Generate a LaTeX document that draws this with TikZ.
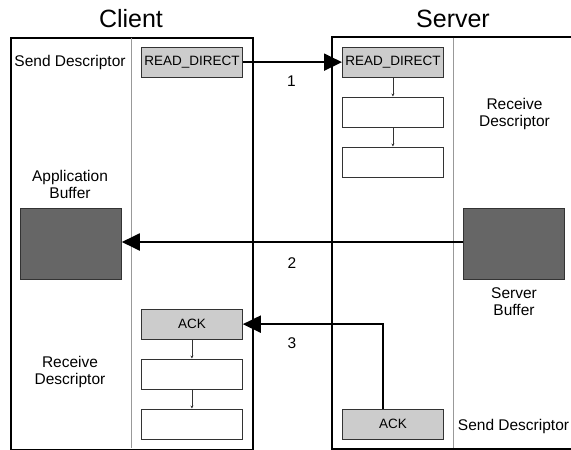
\documentclass[tikz,border=0pt]{standalone}
\usepackage{fontspec}
\setmainfont{Liberation Sans}
\usetikzlibrary{arrows.meta}
\definecolor{lightfill}{HTML}{CCCCCC}
\definecolor{darkfill}{HTML}{666666}
\definecolor{edge}{HTML}{333333}
\definecolor{divider}{HTML}{999999}
\begin{document}
\begin{tikzpicture}[x=1pt,y=-1pt,
  lbl/.style={font=\fontsize{15.5}{17}\selectfont, align=center, inner sep=0pt},
  ttl/.style={font=\fontsize{25}{28}\selectfont, inner sep=0pt, anchor=base},
  desc/.style={draw=edge, line width=0.8pt, minimum width=101pt, minimum height=30.5pt,
    inner sep=0pt, anchor=north west, font=\fontsize{13.5}{15}\selectfont},
  filled/.style={desc, fill=lightfill},
  buf/.style={draw=edge, fill=darkfill, line width=0.8pt, minimum width=101pt,
    minimum height=71pt, inner sep=0pt, anchor=north west},
  frame/.style={draw=black, line width=2pt},
  split/.style={draw=divider, line width=0.8pt},
  bigarrow/.style={draw=black, line width=2pt, -{Triangle[length=18pt,width=17pt]}},
  smallarrow/.style={draw=edge, line width=0.6pt, -{Stealth[length=3pt,width=3pt]}}
]
\useasboundingbox (0,0) rectangle (571,450);

% titles
\node[ttl] (tclient) at (131,27) {Client};
\node[ttl] (tserver) at (453,27) {Server};

% client frame
\node[frame, minimum width=242pt, minimum height=412pt, inner sep=0pt, anchor=north west] (client) at (10,36.5) {};
\draw[split] (131,37.5) -- (131,447.5);

% server frame (cut off on the right)
\coordinate (stl) at (332,36.5);
\coordinate (sbl) at (332,448.5);
\coordinate (str) at (572,36.5);
\coordinate (sbr) at (572,448.5);
\draw[frame] (str) -- (stl) -- (sbl) -- (sbr);
\draw[split] (453,37.5) -- (453,447.5);

% client descriptors
\node[filled] (crd) at (141,46.5) {READ\_DIRECT};
\node[filled] (cack) at (141,308.5) {ACK};
\node[desc] (cr2) at (141,358.5) {};
\node[desc] (cr3) at (141,408.5) {};
\node[buf] (abuf) at (20,208) {};

% server descriptors
\node[filled] (srd) at (342,46.5) {READ\_DIRECT};
\node[desc] (sr2) at (342,96.5) {};
\node[desc] (sr3) at (342,146.5) {};
\node[filled] (sack) at (342,408.5) {ACK};
\node[buf] (sbuf) at (463,208) {};

% labels
\node[lbl, anchor=base] (csend) at (70,66.5) {Send Descriptor};
\node[lbl] (cappbuf) at (70,184) {Application\\Buffer};
\node[lbl] (crecv) at (70,372) {Receive\\Descriptor};
\node[lbl] (srecv) at (514.5,114) {Receive\\Descriptor};
\node[lbl] (ssbuf) at (514,302) {Server\\Buffer};
\node[lbl, anchor=base] (ssend) at (513.5,430) {Send Descriptor};

% chain arrows
\draw[smallarrow] (sr2.north |- srd.south) -- (sr2.north);
\draw[smallarrow] (sr2.south) -- (sr3.north);
\draw[smallarrow] (cack.south) -- (cr2.north);
\draw[smallarrow] (cr2.south) -- (cr3.north);

% main arrows
\draw[bigarrow] (crd.east) -- (srd.west);
\draw[bigarrow] (sbuf.west |- 0,242) -- (abuf.east |- 0,242);
\draw[bigarrow] ([xshift=-9.5pt]sack.north) |- (cack.east);

\node[lbl, anchor=base] (n1) at (291.5,86.5) {1};
\node[lbl, anchor=base] (n2) at (292,268) {2};
\node[lbl, anchor=base] (n3) at (292,348) {3};
\end{tikzpicture}
\end{document}
